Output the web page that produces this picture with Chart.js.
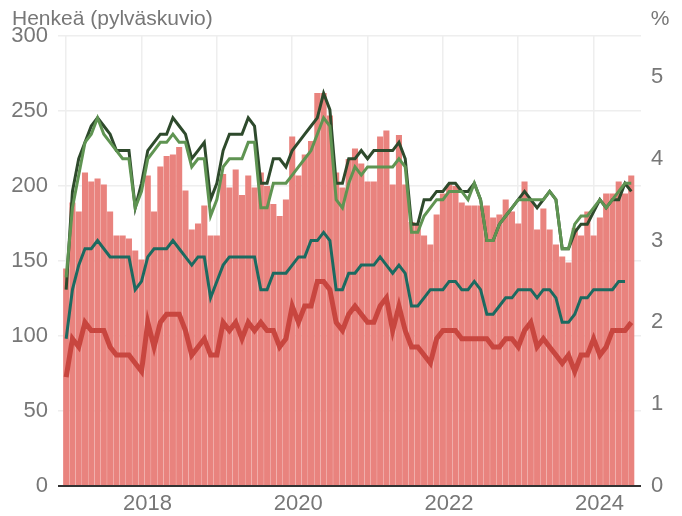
<!DOCTYPE html>
<html>
<head>
<meta charset="utf-8">
<script src="https://cdn.jsdelivr.net/npm/chart.js@4/dist/chart.umd.min.js"></script>
<style>
  html, body { margin: 0; padding: 0; background: #ffffff; }
  #wrap { width: 682px; height: 516px; }
</style>
</head>
<body>
<div id="wrap"><canvas id="c" width="682" height="516"></canvas></div>
<script>
// ---- Data (monthly, Jan 2017 – Jul 2024) ----
const startYear = 2017;
const monthCount = 91;
const months = [];
for (let i = 0; i < monthCount; i++) {
  const y = startYear + Math.floor(i / 12);
  const m = (i % 12) + 1;
  months.push(y + '-' + (m < 10 ? '0' + m : m));
}

// Bars: persons (left axis)
const personsBars = [
  145, 189, 183, 209, 203, 205, 201, 183, 167, 167, 165, 157,
  151, 207, 183, 213, 220, 221, 226, 197, 171, 175, 187, 167,
  167, 208, 199, 211, 194, 207, 199, 209, 200, 188, 180, 191,
  233, 207, 221, 230, 262, 262, 247, 209, 199, 218, 225, 215,
  203, 203, 233, 237, 201, 234, 201, 176, 174, 167, 161, 181,
  195, 201, 200, 189, 187, 187, 187, 187, 179, 181, 191, 183,
  175, 203, 190, 171, 185, 171, 161, 153, 149, 172, 167, 183,
  167, 179, 195, 195, 203, 195, 207
];

// Lines: percent (right axis)
const redLine = [
  1.33, 1.8, 1.7, 2.0, 1.9, 1.9, 1.9, 1.7, 1.6, 1.6, 1.6, 1.5,
  1.4, 2.0, 1.7, 2.0, 2.1, 2.1, 2.1, 1.9, 1.6, 1.7, 1.8, 1.6,
  1.6, 2.0, 1.9, 2.0, 1.8, 2.0, 1.9, 2.0, 1.9, 1.9, 1.7, 1.8,
  2.2, 2.0, 2.2, 2.2, 2.5, 2.5, 2.4, 2.0, 1.9, 2.1, 2.2, 2.1,
  2.0, 2.0, 2.2, 2.3, 1.9, 2.2, 1.9, 1.7, 1.7, 1.6, 1.5, 1.8,
  1.9, 1.9, 1.9, 1.8, 1.8, 1.8, 1.8, 1.8, 1.7, 1.7, 1.8, 1.8,
  1.7, 1.9, 2.0, 1.7, 1.8, 1.7, 1.6, 1.5, 1.6, 1.4, 1.6, 1.6,
  1.8, 1.6, 1.7, 1.9, 1.9, 1.9, 2.0
];
const tealLine = [
  1.8, 2.4, 2.7, 2.9, 2.9, 3.0, 2.9, 2.8, 2.8, 2.8, 2.8, 2.4,
  2.5, 2.8, 2.9, 2.9, 2.9, 3.0, 2.9, 2.8, 2.7, 2.8, 2.8, 2.3,
  2.5, 2.7, 2.8, 2.8, 2.8, 2.8, 2.8, 2.4, 2.4, 2.6, 2.6, 2.6,
  2.7, 2.8, 2.8, 3.0, 3.0, 3.1, 3.0, 2.4, 2.4, 2.6, 2.6, 2.7,
  2.7, 2.7, 2.8, 2.7, 2.6, 2.7, 2.6, 2.2, 2.2, 2.3, 2.4, 2.4,
  2.4, 2.5, 2.5, 2.4, 2.4, 2.5, 2.4, 2.1, 2.1, 2.2, 2.3, 2.3,
  2.4, 2.4, 2.4, 2.3, 2.4, 2.4, 2.3, 2.0, 2.0, 2.1, 2.3, 2.3,
  2.4, 2.4, 2.4, 2.4, 2.5, 2.5, null
];
const darkGreenLine = [
  2.4, 3.6, 4.0, 4.2, 4.4, 4.5, 4.4, 4.3, 4.1, 4.1, 4.1, 3.4,
  3.7, 4.1, 4.2, 4.3, 4.3, 4.5, 4.4, 4.3, 4.0, 4.1, 4.2, 3.5,
  3.7, 4.1, 4.3, 4.3, 4.3, 4.5, 4.4, 3.7, 3.7, 4.0, 4.0, 3.9,
  4.1, 4.2, 4.3, 4.4, 4.5, 4.8, 4.6, 3.7, 3.7, 4.0, 4.0, 4.1,
  4.0, 4.1, 4.1, 4.1, 4.1, 4.2, 4.0, 3.2, 3.2, 3.5, 3.5, 3.6,
  3.6, 3.7, 3.7, 3.6, 3.6, 3.7, 3.5, 3.0, 3.0, 3.2, 3.3, 3.4,
  3.5, 3.6, 3.5, 3.4, 3.5, 3.6, 3.5, 2.9, 2.9, 3.1, 3.2, 3.2,
  3.35, 3.5, 3.4, 3.5, 3.5, 3.7, 3.6
];
const lightGreenLine = [
  2.55, 3.4, 3.8, 4.2, 4.3, 4.5, 4.3, 4.2, 4.1, 4.0, 4.0, 3.4,
  3.6, 4.0, 4.1, 4.2, 4.2, 4.3, 4.2, 4.2, 3.9, 4.0, 4.0, 3.3,
  3.5, 3.9, 4.0, 4.0, 4.0, 4.2, 4.2, 3.4, 3.4, 3.7, 3.7, 3.7,
  3.8, 3.9, 4.0, 4.1, 4.3, 4.5, 4.4, 3.5, 3.4, 3.7, 3.9, 3.8,
  3.9, 3.9, 3.9, 3.9, 3.9, 4.0, 3.9, 3.1, 3.1, 3.3, 3.4, 3.5,
  3.5, 3.6, 3.6, 3.6, 3.5, 3.7, 3.5, 3.0, 3.0, 3.2, 3.3, 3.4,
  3.5, 3.5, 3.5, 3.5, 3.5, 3.6, 3.5, 2.9, 2.9, 3.2, 3.3, 3.3,
  3.4, 3.5, 3.4, 3.5, 3.6, 3.7, 3.7
];

// Axis ticks
const xTickMonths = [0, 12, 24, 36, 48, 60, 72, 84];
const xTickLabels = ['', '2018', '', '2020', '', '2022', '', '2024'];
const leftTicks = [0, 50, 100, 150, 200, 250, 300];
const rightTicks = [0, 1, 2, 3, 4, 5];
const leftTitle = 'Henkeä (pylväskuvio)';
const rightTitle = '%';

// ---- Chart ----
const FONT = "'Liberation Sans', Arial, Helvetica, sans-serif";
const TXT = '#777777';

function pts(arr) { return arr.map((v, i) => ({ x: i, y: v })); }

const overlay = {
  id: 'overlay',
  afterDatasetsDraw(chart) {
    const { ctx, chartArea, scales } = chart;
    const y0 = scales.y.getPixelForValue(0);
    ctx.save();
    ctx.strokeStyle = '#333333';
    ctx.lineWidth = 2;
    ctx.beginPath();
    ctx.moveTo(chartArea.left, y0);
    ctx.lineTo(chartArea.right, y0);
    ctx.stroke();
    ctx.restore();
  },
  afterDraw(chart) {
    const { ctx } = chart;
    ctx.save();
    ctx.fillStyle = TXT;
    ctx.font = '21px ' + FONT;
    ctx.textBaseline = 'alphabetic';
    ctx.textAlign = 'left';
    ctx.fillText(leftTitle, 12, 25);
    ctx.textAlign = 'center';
    ctx.fillText(rightTitle, 660, 25);
    ctx.restore();
  }
};

new Chart(document.getElementById('c'), {
  type: 'bar',
  data: {
    datasets: [
      {
        type: 'line', label: 'light', data: pts(lightGreenLine), yAxisID: 'y2',
        borderColor: '#5F9452', borderWidth: 3, pointRadius: 0, tension: 0, order: 1
      },
      {
        type: 'line', label: 'dark', data: pts(darkGreenLine), yAxisID: 'y2',
        borderColor: '#2E4A2C', borderWidth: 3, pointRadius: 0, tension: 0, order: 2
      },
      {
        type: 'line', label: 'teal', data: pts(tealLine), yAxisID: 'y2',
        borderColor: '#1C6A60', borderWidth: 3, pointRadius: 0, tension: 0, order: 3
      },
      {
        type: 'line', label: 'red', data: pts(redLine), yAxisID: 'y2',
        borderColor: '#C8463F', borderWidth: 5, pointRadius: 0, tension: 0, order: 4
      },
      {
        type: 'bar', label: 'Henkeä', data: pts(personsBars), yAxisID: 'y',
        backgroundColor: '#E9837E', borderWidth: 0,
        barPercentage: 1, categoryPercentage: 0.965, order: 10
      }
    ]
  },
  options: {
    responsive: false,
    animation: false,
    devicePixelRatio: 1,
    layout: { padding: { top: 36, left: 0, right: 0, bottom: 0 } },
    plugins: { legend: { display: false }, title: { display: false }, tooltip: { enabled: false } },
    scales: {
      x: {
        type: 'linear',
        min: -1.3,
        max: 91.55,
        offset: false,
        grid: { color: '#eeeeee', lineWidth: 1.5, drawTicks: false, offset: false },
        border: { display: false },
        afterBuildTicks(axis) { axis.ticks = xTickMonths.map(v => ({ value: v })); },
        afterFit(axis) { axis.height = 30; },
        ticks: {
          autoSkip: false, maxRotation: 0, minRotation: 0,
          padding: 5, labelOffset: 6,
          color: TXT, font: { family: FONT, size: 22 },
          callback(value) {
            const k = xTickMonths.indexOf(value);
            return k >= 0 ? xTickLabels[k] : '';
          }
        }
      },
      y: {
        position: 'left',
        min: 0, max: 300,
        grid: { color: '#eeeeee', lineWidth: 1.5, drawTicks: false },
        border: { display: false },
        afterBuildTicks(axis) { axis.ticks = leftTicks.map(v => ({ value: v })); },
        afterFit(axis) { axis.width = 58; },
        ticks: { padding: 10, color: TXT, font: { family: FONT, size: 22 } }
      },
      y2: {
        position: 'right',
        min: 0, max: 5.5,
        grid: { display: false, drawTicks: false },
        border: { display: false },
        afterBuildTicks(axis) { axis.ticks = rightTicks.map(v => ({ value: v })); },
        afterFit(axis) { axis.width = 41; },
        ticks: { padding: 10, color: TXT, font: { family: FONT, size: 22 } }
      }
    }
  },
  plugins: [overlay]
});
</script>
</body>
</html>
